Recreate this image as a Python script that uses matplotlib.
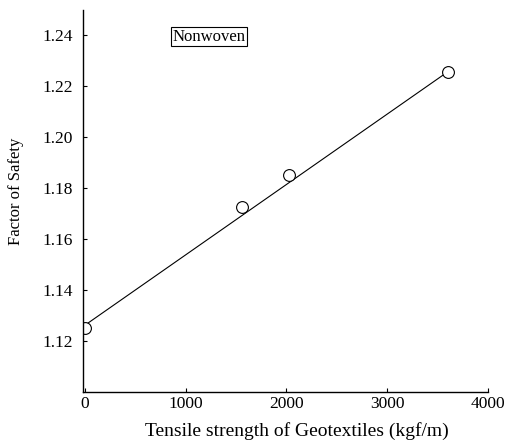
import matplotlib
matplotlib.use("Agg")
import matplotlib.pyplot as plt

# data
strength = [0, 1560, 2030, 3600]
fos = [1.125, 1.1728, 1.185, 1.2256]

# fitted straight line, end points
fit_x = [0, 3560]
fit_y = [1.1262, 1.2245]

x_ticks = [0, 1000, 2000, 3000, 4000]
y_ticks = [1.12, 1.14, 1.16, 1.18, 1.20, 1.22, 1.24]

plt.rcParams['font.family'] = ['Liberation Serif', 'DejaVu Serif']

fig = plt.figure(figsize=(5.05, 4.46), dpi=100)
ax = fig.add_axes([0.164, 0.121, 0.802, 0.857])

ax.plot(fit_x, fit_y, color='black', lw=0.8)
ax.plot(strength, fos, 'o', mfc='white', mec='black', ms=8.5, mew=0.8)

ax.set_xlim(-20, 4000)
ax.set_ylim(1.10, 1.25)
ax.set_xticks(x_ticks)
ax.set_yticks(y_ticks)
ax.set_yticklabels([f'{v:.2f}' for v in y_ticks])

for s in ['top', 'right']:
    ax.spines[s].set_visible(False)
for s in ['left', 'bottom']:
    ax.spines[s].set_linewidth(1.0)

ax.tick_params(direction='in', length=3, width=0.8, labelsize=12.5)
ax.tick_params(axis='x', pad=2.5)
ax.tick_params(axis='y', pad=7)

ax.set_xlabel('Tensile strength of Geotextiles (kgf/m)', fontsize=14)
ax.set_ylabel('Factor of Safety', fontsize=12)
ax.xaxis.set_label_coords(0.528, -0.078)
ax.yaxis.set_label_coords(-0.145, 0.525)

ax.text(1230, 1.2395, 'Nonwoven', fontsize=12, ha='center', va='center',
        bbox=dict(boxstyle='square,pad=0.1', fc='white', ec='black', lw=0.8))

fig.savefig('out.png', dpi=100)
